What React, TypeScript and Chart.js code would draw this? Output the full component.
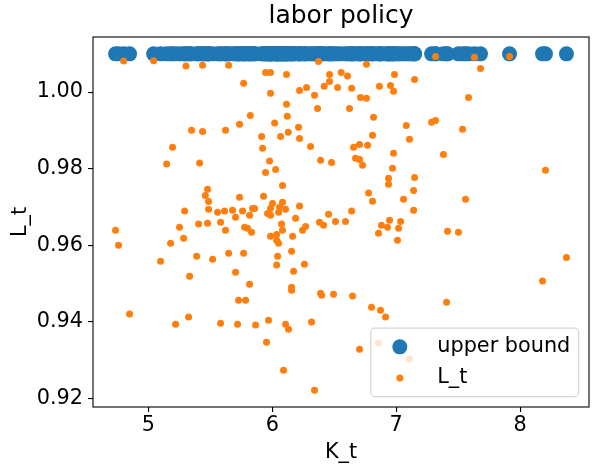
import { useEffect, useRef } from "react";
import { Chart, registerables } from "chart.js";
import type { Plugin } from "chart.js";

Chart.register(...registerables);

// capital K_t and labor L_t
const K_T = [
  4.801, 5.043, 5.304, 5.438, 5.648, 5.946, 5.986, 6.115, 5.769, 5.986,
  6.115, 5.823, 6.121, 6.019, 5.736, 5.349, 5.438, 5.623, 5.914, 6.067,
  6.129, 5.196, 5.922, 5.148, 5.414, 5.978, 6.373, 6.76, 7.317, 6.462,
  6.556, 6.607, 6.986, 6.462, 6.419, 6.277, 6.22, 6.527, 6.64, 6.865,
  6.954, 6.978, 7.148, 6.341, 6.712, 6.76, 6.365, 6.623, 6.817, 7.081,
  7.285, 7.317, 6.212, 6.22, 6.809, 7.107, 6.309, 6.656, 6.704, 6.769,
  6.978, 6.39, 6.478, 6.672, 6.704, 6.728, 7.631, 7.914, 7.68, 7.583,
  7.535, 7.381, 8.204, 7.559, 7.14, 7.148, 7.059, 7.14, 6.938, 6.938,
  6.97, 6.777, 6.809, 6.64, 6.51, 6.591, 6.881, 6.946, 7.035, 6.93,
  7.019, 7.414, 7.502, 5.946, 6.027, 6.083, 5.478, 5.46, 5.736, 5.93,
  5.486, 5.486, 5.293, 5.559, 5.615, 5.68, 5.76, 5.841, 5.857, 5.704,
  5.817, 6.002, 6.083, 5.986, 6.059, 5.962, 5.986, 6.051, 6.107, 5.406,
  5.478, 5.583, 5.252, 5.623, 5.777, 5.801, 5.833, 6.075, 6.083, 5.986,
  6.035, 6.035, 6.051, 5.285, 5.18, 6.164, 6.156, 5.39, 5.519, 5.648,
  5.769, 6.043, 6.035, 5.099, 5.333, 5.704, 5.817, 6.172, 6.156, 6.156,
  4.736, 4.76, 6.188, 6.22, 6.244, 6.269, 6.26, 6.381, 6.414, 6.454,
  6.857, 7.01, 8.373, 8.18, 4.849, 5.22, 5.325, 5.583, 5.72, 5.728,
  5.785, 5.865, 5.97, 5.954, 6.107, 6.131, 6.091, 6.317, 6.341, 6.39,
  6.398, 6.494, 6.648, 6.801, 6.873, 6.914, 6.704, 6.857, 7.107, 7.406,
];

const L_T = [
  1.0081, 1.0082, 1.0068, 1.007, 1.007, 1.0051, 1.0051, 1.0046, 1.0023, 0.9997,
  0.9968, 0.9939, 0.9937, 0.9919, 0.9916, 0.99, 0.9897, 0.99, 0.9884, 0.9884,
  0.9895, 0.9856, 0.9853, 0.9812, 0.9815, 0.982, 1.008, 1.0073, 1.0093, 1.0046,
  1.0051, 1.0042, 1.0046, 1.0028, 1.0015, 1.0012, 1.0004, 1.0012, 1.001, 1.0015,
  1.0017, 1.0002, 1.0033, 0.9992, 0.9986, 0.9984, 0.9957, 0.9957, 0.9934, 0.9913,
  0.9921, 0.9926, 0.9908, 0.9879, 0.9887, 0.9877, 0.9858, 0.9856, 0.9863, 0.9861,
  0.984, 0.9822, 0.9816, 0.9827, 0.9824, 0.9809, 1.0091, 1.0093, 1.0062, 0.9986,
  0.9903, 0.9837, 0.9796, 0.972, 0.9743, 0.9777, 0.972, 0.9691, 0.9775, 0.9759,
  0.9801, 0.9736, 0.9715, 0.9689, 0.9662, 0.9662, 0.9652, 0.9665, 0.9662, 0.9647,
  0.9644, 0.9636, 0.9634, 0.979, 0.9798, 0.9756, 0.9746, 0.973, 0.9725, 0.9728,
  0.9714, 0.9694, 0.9689, 0.9686, 0.9689, 0.9691, 0.9689, 0.9696, 0.9696, 0.9673,
  0.9678, 0.9709, 0.9712, 0.9696, 0.9699, 0.9683, 0.9678, 0.9686, 0.9694, 0.9655,
  0.9657, 0.966, 0.9647, 0.9639, 0.9647, 0.9644, 0.9634, 0.9655, 0.9639, 0.9623,
  0.9628, 0.9613, 0.9605, 0.9618, 0.9605, 0.9623, 0.9584, 0.9571, 0.9563, 0.9579,
  0.9579, 0.9571, 0.9548, 0.9558, 0.9519, 0.9529, 0.9498, 0.9532, 0.949, 0.9482,
  0.9639, 0.96, 0.967, 0.9702, 0.9639, 0.9649, 0.955, 0.966, 0.9652, 0.9681,
  0.9631, 0.9613, 0.9568, 0.9506, 0.942, 0.9393, 0.9412, 0.9396, 0.9393, 0.9456,
  0.9456, 0.9391, 0.9404, 0.9346, 0.9393, 0.938, 0.9273, 0.9399, 0.9221, 0.9474,
  0.9469, 0.9472, 0.9467, 0.9438, 0.943, 0.9412, 0.9328, 0.9344, 0.9302, 0.9451,
];

const UPPER_BOUND = 1.01;
const X_TICKS = [5, 6, 7, 8];
const Y_TICKS = [0.92, 0.94, 0.96, 0.98, 1.0];

const FONT = "DejaVu Sans";
const FS = 20.8;
const BLUE = "#1f77b4";
const ORANGE = "#ff7f0e";

// matplotlib-ish frame, title and in-axes legend
const mplLook: Plugin<"scatter"> = {
  id: "mplLook",
  afterDatasetsDraw(chart) {
    const { ctx, chartArea: a } = chart;
    ctx.save();

    ctx.strokeStyle = "#000";
    ctx.lineWidth = 1.1;
    ctx.strokeRect(a.left, a.top, a.right - a.left, a.bottom - a.top);

    ctx.fillStyle = "#000";
    ctx.font = `${FS * 1.2}px "${FONT}"`;
    ctx.textAlign = "center";
    ctx.textBaseline = "alphabetic";
    ctx.fillText("labor policy", (a.left + a.right) / 2, a.top - 14.2);

    const sets = chart.data.datasets;
    ctx.font = `${FS}px "${FONT}"`;
    const textW = Math.max(...sets.map((d) => ctx.measureText(d.label ?? "").width));
    const pad = 0.4 * FS;
    const rowH = 20.7;
    const gap = 0.5 * FS;
    const handle = 2 * FS;
    const hgap = 0.8 * FS;
    const w = 2 * pad + handle + hgap + textW;
    const h = 2 * pad + sets.length * rowH + (sets.length - 1) * gap;
    const x0 = a.right - 0.5 * FS - w;
    const y0 = a.bottom - 0.5 * FS - h;

    ctx.beginPath();
    ctx.roundRect(x0, y0, w, h, 0.2 * FS);
    ctx.fillStyle = "rgba(255,255,255,0.8)";
    ctx.fill();
    ctx.strokeStyle = "rgba(204,204,204,0.8)";
    ctx.lineWidth = 1.2;
    ctx.stroke();

    ctx.textAlign = "left";
    sets.forEach((d, i) => {
      const top = y0 + pad + i * (rowH + gap);
      ctx.beginPath();
      ctx.arc(x0 + pad + handle / 2, top + rowH / 2, d.pointRadius as number, 0, Math.PI * 2);
      ctx.fillStyle = d.backgroundColor as string;
      ctx.fill();
      ctx.fillStyle = "#000";
      ctx.fillText(d.label ?? "", x0 + pad + handle + hgap, top + 15.8);
    });

    ctx.restore();
  },
};

export default function App() {
  const canvasRef = useRef<HTMLCanvasElement>(null);

  useEffect(() => {
    if (!canvasRef.current) return;

    const tickFont = { family: FONT, size: FS };

    const chart = new Chart(canvasRef.current, {
      type: "scatter",
      data: {
        datasets: [
          {
            label: "upper bound",
            data: K_T.map((k) => ({ x: k, y: UPPER_BOUND })),
            backgroundColor: BLUE,
            borderColor: BLUE,
            pointRadius: 7.5,
            pointBorderWidth: 0,
            order: 2,
          },
          {
            label: "L_t",
            data: K_T.map((k, i) => ({ x: k, y: L_T[i] })),
            backgroundColor: ORANGE,
            borderColor: ORANGE,
            pointRadius: 3.5,
            pointBorderWidth: 0,
            order: 1,
          },
        ],
      },
      options: {
        animation: false,
        responsive: false,
        events: [],
        layout: { padding: { top: 37, right: 9, left: 0, bottom: 0 } },
        scales: {
          x: {
            type: "linear",
            min: 4.554,
            max: 8.555,
            afterBuildTicks: (s) => {
              s.ticks = X_TICKS.map((v) => ({ value: v }));
            },
            afterFit: (s) => {
              s.height = 66;
            },
            ticks: {
              autoSkip: false,
              maxRotation: 0,
              padding: 1,
              color: "#000",
              font: tickFont,
              callback: (v) => String(v),
            },
            grid: { drawOnChartArea: false, tickLength: 5, color: "#000", lineWidth: 1.1 },
            border: { display: false },
            title: {
              display: true,
              text: "K_t",
              color: "#000",
              font: tickFont,
              padding: { top: 0, bottom: 7.5 },
            },
          },
          y: {
            type: "linear",
            min: 0.9177,
            max: 1.0144,
            afterBuildTicks: (s) => {
              s.ticks = Y_TICKS.map((v) => ({ value: v }));
            },
            afterFit: (s) => {
              s.width = 93;
            },
            ticks: {
              autoSkip: false,
              padding: 5,
              color: "#000",
              font: tickFont,
              callback: (v) => Number(v).toFixed(2),
            },
            grid: { drawOnChartArea: false, tickLength: 5, color: "#000", lineWidth: 1.1 },
            border: { display: false },
            title: {
              display: true,
              text: "L_t",
              color: "#000",
              font: tickFont,
              padding: { top: 8.5, bottom: 0 },
            },
          },
        },
        plugins: {
          legend: { display: false },
          tooltip: { enabled: false },
        },
      },
      plugins: [mplLook],
    });

    return () => {
      chart.destroy();
    };
  }, []);

  return (
    <div style={{ position: "absolute", left: 0, top: 0, width: 598, height: 473, background: "#fff" }}>
      <canvas ref={canvasRef} width={598} height={473} />
    </div>
  );
}
